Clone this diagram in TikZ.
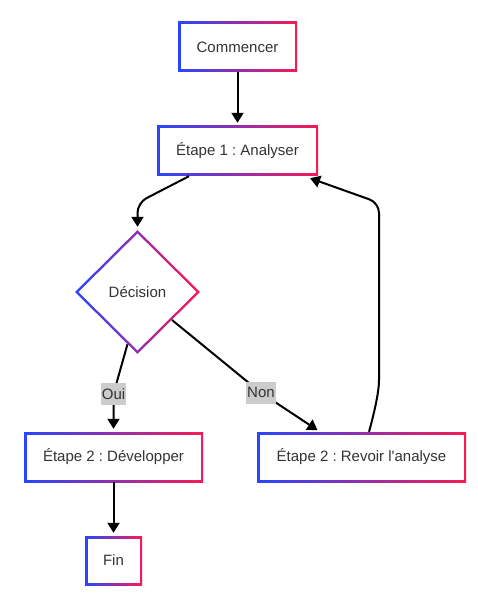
\documentclass[tikz,border=0pt]{standalone}
\usepackage{fontspec}
\newfontfamily\lfont{Liberation Sans}
\usetikzlibrary{arrows.meta,shapes.geometric,calc}
\definecolor{gL}{RGB}{40,70,255}
\definecolor{gR}{RGB}{250,25,85}
\definecolor{txt}{RGB}{51,51,51}
\definecolor{lblbg}{RGB}{204,204,204}
\tikzset{
  lbltxt/.style={text=txt, font=\lfont\fontsize{15}{18}\selectfont\frenchspacing},
  arr/.style={line width=2pt, draw=black, -{Triangle[length=10pt,width=12pt]}, shorten >=3pt},
  lbl/.style={lbltxt, sharp corners, fill=lblbg, inner xsep=1pt, inner ysep=0pt, minimum height=22pt},
}
% name, shape, at, outer w, outer h, inner w, inner h, text
\newcommand\gradnode[8]{%
  \node[#2, left color=gL, right color=gR, draw=none, inner sep=0pt,
        minimum width=#4pt, minimum height=#5pt] (#1) at (#3) {};
  \node[#2, fill=white, draw=none, inner sep=0pt,
        minimum width=#6pt, minimum height=#7pt, lbltxt] (#1-in) at (#3) {#8};
}
\begin{document}
\begin{tikzpicture}[x=1pt,y=-1pt]
\useasboundingbox[fill=white] (0,0) rectangle (478,601);

\gradnode{c}{rectangle}{237.5,47}{119}{50}{114}{45}{Commencer}
\gradnode{a}{rectangle}{237.5,151}{161}{50}{156}{45}{Étape 1 : Analyser}
\gradnode{d}{diamond}{137.5,292}{125}{124}{118}{117}{Décision}
\gradnode{dev}{rectangle}{113.5,457}{179}{50}{174}{45}{Étape 2 : Développer}
\gradnode{rev}{rectangle}{361.5,457}{209}{50}{204}{45}{Étape 2 : Revoir l'analyse}
\gradnode{fin}{rectangle}{113.5,560.5}{57}{49}{52}{44}{Fin}

\draw[arr] (c) -- (a);
\draw[arr, rounded corners=10pt] ($(a.south)+(-48.5,0)$) -- ($(d.north)+(0,-27)$) -- (d.north);
\draw[arr, rounded corners=12pt] ($(d.south)!0.16!(d.west)$) -- ($(dev.north)+(0,-38)$) node[lbl] {Oui} -- (dev.north);
\draw[arr, rounded corners=6pt] ($(d.east)!0.45!(d.south)$) -- ($(rev.north)+(-100.5,-39)$) node[lbl] {Non} -- ($(rev.north)+(-41.5,0)$);
\draw[arr, rounded corners=10pt] ($(rev.north)+(7.5,0)$) .. controls ($(rev.north)+(13,-20)$) and ($(rev.north)+(17.5,-40)$) .. ($(rev.north)+(17.5,-62)$)
   -- ($(rev.north)+(17.5,-229)$) -- ($(a.south east)+(-11,1)$);
\draw[arr] (dev) -- (fin);
\end{tikzpicture}
\end{document}
